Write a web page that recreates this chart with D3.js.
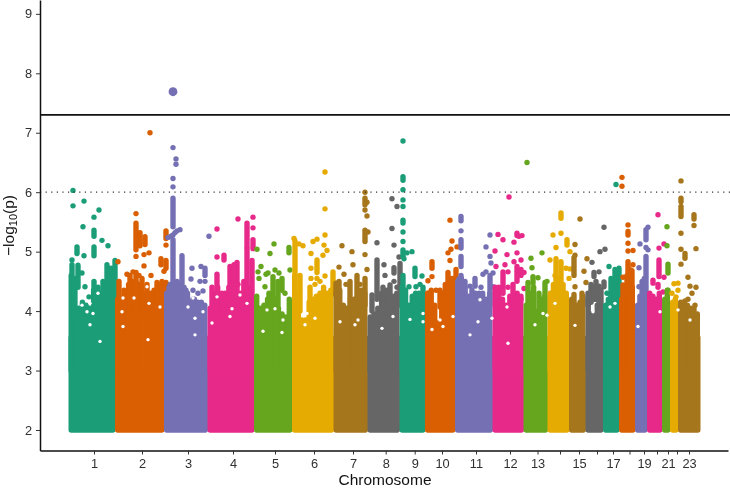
<!DOCTYPE html>
<html>
<head>
<meta charset="utf-8">
<script src="https://cdn.jsdelivr.net/npm/d3@7"></script>
<style>
    html, body { margin: 0; padding: 0; background: #fff; }
    svg { display: block; filter: blur(0.35px); }
    text { font-family: "Liberation Sans", Arial, sans-serif; }
    .tick text { font-size: 12.8px; fill: #303030; }
</style>
</head>
<body>
<div id="chart"></div>
<script>
//---------------------------DATA---------------------------------
const chromosomes = d3.range(1, 24);
const chromColors = ["#1B9E77", "#D95F02", "#7570B3", "#E7298A", "#66A61E", "#E6AB02", "#A6761D", "#666666"];

// genome position of the chromosome borders, in plot units
const chromBorders = [28.5, 75, 124, 167.5, 214, 252, 293.5, 327.5, 359.5, 385, 415, 452.5, 483.5, 507.5, 529, 545.5, 563, 579, 595, 607, 622, 630, 638, 660];

const tickPositions = [54, 102, 148, 193, 235, 274, 313, 345.7, 374.7, 402, 436, 470, 497.5, 520, 539, 557, 573, 589.5, 604, 617, 628, 637, 649];
const tickLabels = ["1", "2", "3", "4", "5", "6", "7", "8", "9", "10", "11", "12", "13", "", "15", "", "17", "", "19", "", "21", "", "23"];
const yTicks = [2, 3, 4, 5, 6, 7, 8, 9];

const genomeWideLine = 7.3;
const suggestiveLine = 6;
const leadSnp = [133, 7.69];

// top of the solid mass of SNPs, read left to right inside each chromosome
const bodyTops = [
    [4.6, 4.55, 4.05, 4.15, 4.1, 4.05, 4.35, 4.15, 4.3, 4.35, 4.45, 4.5],
    [4.2, 4.15, 4.3, 4.45, 4.5, 4.5, 4.45, 4.3, 4.25, 4.3, 4.35, 4.4, 4.45],
    [4.3, 4.45, 4.45, 4.5, 4.45, 4.4, 4.3, 4.15, 4.2, 4.15, 4.15, 4.1],
    [4.05, 4.3, 4.4, 4.1, 4.3, 4.4, 4.35, 4.4, 4.3, 4.5, 4.35, 4.4],
    [4.25, 4.05, 4.1, 4.2, 4.25, 4.2, 4.05, 3.95, 3.9, 4.2],
    [4.6, 4.3, 3.85, 3.85, 4.15, 4.2, 4.25, 4.3, 4.4, 4.3, 4.35],
    [4.3, 4.35, 4.1, 4.05, 4.2, 4.2, 4.3, 4.35, 4.3],
    [3.9, 3.95, 4.05, 4.3, 4.3, 4.25, 4.25, 4.3],
    [4.4, 4.35, 4.1, 4.25, 4.3, 4.3, 3.9],
    [4.3, 4.35, 4.1, 3.8, 4.3, 4.45, 4.5, 4.4],
    [4.5, 4.55, 4.4, 4.25, 4.35, 4.3, 4.3, 4.3, 4.2, 4.3],
    [4.4, 4.4, 4.2, 4.1, 4.25, 4.25, 4.3, 4.2],
    [4.1, 4.3, 4.4, 4.0, 4.2, 4.25],
    [4.3, 4.45, 4.55, 4.5, 4.45, 4.3],
    [4.2, 4.0, 4.1, 4.15, 4.25],
    [4.2, 3.95, 3.95, 4.1, 4.25],
    [4.1, 4.2, 4.3, 4.5, 4.6],
    [4.2, 4.3, 4.6, 4.7, 4.4],
    [4.1, 4.25, 4.5, 4.55],
    [4.3, 4.25, 4.2, 4.3],
    [4.2, 4.35],
    [4.15, 4.2],
    [4.15, 4.15, 4.1, 4.05, 4.05, 3.95]
];

// stacks of neighbouring SNPs: [position, lowest, highest]
const stacks = [
    [[54, 4.93, 5.08], [54, 5.26, 5.36], [37, 4.97, 5.08], [32, 3.9, 4.78], [38, 4.4, 4.77], [54, 4.1, 4.5], [63, 4.1, 4.5], [67, 4.2, 4.78], [71, 4.2, 4.72], [75, 4.1, 4.85], [58, 4.0, 4.4]],
    [[96, 5.03, 5.48], [100, 5.1, 5.32], [105, 5.12, 5.25], [126, 5.22, 5.35], [121, 4.78, 4.88], [126, 4.72, 4.85], [79, 4.05, 4.5], [84, 4.0, 4.35], [90, 4.0, 4.6], [96, 4.0, 4.65], [102, 4.0, 4.55], [107, 4.0, 4.45], [112, 4.1, 4.25], [117, 4.0, 4.48], [122, 4.0, 4.5], [126, 4.0, 4.48]],
    [[133, 5.42, 5.9], [133, 4.5, 5.2], [142, 4.47, 4.93], [165, 4.6, 4.72], [129, 4.0, 4.4], [137, 4.0, 4.45], [146, 4.0, 4.35], [153, 4.05, 4.2]],
    [[207, 5.08, 5.48], [213, 5.05, 5.2], [184, 4.86, 4.94], [207, 4.3, 5.05], [197, 4.1, 4.82], [190, 4.1, 4.75], [194, 4.1, 4.78], [177, 4.2, 4.62], [172, 3.9, 4.4], [182, 4.0, 4.3], [212, 4.2, 4.85]],
    [[249, 4.98, 5.07], [242, 4.35, 4.55], [233, 4.0, 4.58], [229, 4.0, 4.3], [238, 4.1, 4.5]],
    [[255, 4.0, 5.18], [260, 4.0, 4.6], [277, 4.65, 4.86], [293, 4.3, 4.66], [270, 4.0, 4.4], [282, 4.0, 4.25], [290, 4.0, 4.25]],
    [[325, 5.79, 5.9], [325, 5.17, 5.36], [296, 4.27, 4.47], [299, 4.3, 4.5], [310, 4.1, 4.5], [317, 4.1, 4.6], [325, 4.1, 4.55]],
    [[337, 4.2, 4.86], [354, 4.64, 4.73], [343, 4.1, 4.4], [347, 4.1, 4.35], [332, 4.0, 4.27], [360, 4.1, 4.8], [350, 4.1, 4.4]],
    [[363, 6.2, 6.26], [363, 5.48, 5.53], [363, 4.92, 5.03], [375, 4.58, 4.72], [363, 4.3, 4.6], [383, 3.9, 4.4]],
    [[392, 4.72, 4.83], [400, 4.07, 4.35], [408, 4.1, 4.65], [412, 4.1, 4.55], [416, 4.1, 4.7], [388, 3.9, 4.3]],
    [[421, 5.52, 5.59], [421, 5.06, 5.2], [421, 4.75, 4.92], [421, 4.2, 4.6], [435, 4.44, 4.55], [425, 4.2, 4.5], [450, 4.1, 4.6]],
    [[477, 5.27, 5.31], [477, 4.5, 4.75], [481, 4.6, 4.7], [463, 4.3, 4.66], [456, 4.0, 4.38], [473, 4.1, 4.45], [481, 4.2, 4.25]],
    [[493, 4.47, 4.58], [488, 4.1, 4.48], [499, 4.0, 4.3], [505, 4.0, 4.48]],
    [[521, 5.56, 5.65], [527, 5.11, 5.2], [516, 4.4, 4.88], [521, 4.4, 4.83]],
    [[534, 4.6, 4.9], [534, 4.0, 4.28], [542, 4.05, 4.3]],
    [[554, 4.58, 4.65], [564, 4.41, 4.49], [551, 4.15, 4.45], [556, 4.2, 4.5], [561, 4.1, 4.35], [548, 4.1, 4.3], [554, 4.2, 4.4], [559, 4.15, 4.42]],
    [[575, 4.2, 4.7], [579, 4.2, 4.72], [571, 4.2, 4.55]],
    [[588, 5.28, 5.34], [588, 4.4, 4.83], [583, 4.25, 4.44], [592, 4.3, 4.68]],
    [[606, 5.2, 5.37], [606, 4.58, 4.92], [606, 4.2, 4.55]],
    [[619, 4.58, 4.86], [613, 4.47, 4.52], [618, 4.4, 4.45]],
    [[628, 4.64, 4.79]],
    [],
    [[641, 5.84, 5.9], [641, 5.59, 5.76], [654, 5.55, 5.62], [645, 4.89, 4.97]]
];

// single SNPs standing clear of the mass: [position, -log10(p)]
const hits = [
    [[33, 6.03], [33, 5.77], [44, 5.85], [59, 5.7], [54, 5.58], [43, 5.42], [62, 5.19], [68, 5.1], [44, 4.93], [32, 4.86], [42, 4.64], [45, 4.41], [49, 4.24]],
    [[110, 7.0], [96, 5.64], [96, 4.92], [104, 4.95], [109, 4.98], [104, 4.76], [78, 4.83], [126, 5.11], [124, 4.67], [111, 4.6], [87, 4.62], [93, 4.66], [99, 4.6]],
    [[133, 6.75], [136, 6.56], [136, 6.47], [133, 6.23], [133, 6.09], [128, 5.24], [131, 5.26], [133, 5.28], [135, 5.32], [137, 5.35], [140, 5.37], [152, 4.72], [161, 4.75], [169, 5.26], [151, 4.54], [160, 4.5], [165, 4.5], [163, 4.34], [158, 4.3], [153, 4.35]],
    [[177, 5.38], [198, 5.55], [213, 5.58], [213, 5.4], [177, 4.91], [198, 4.45]],
    [[217, 5.04], [234, 5.13], [230, 4.97], [221, 4.75], [218, 4.66], [226, 4.62], [228, 4.64], [235, 4.69], [239, 4.64], [250, 4.69], [219, 4.55], [225, 4.41], [245, 4.3]],
    [[285, 6.34], [285, 5.72], [285, 5.28], [254, 5.22], [259, 5.13], [263, 5.1], [273, 5.17], [277, 5.21], [284, 5.11], [287, 5.02], [283, 4.94], [271, 4.97], [271, 4.72], [271, 4.55], [277, 4.55], [285, 4.59], [280, 4.5], [275, 4.45]],
    [[325, 6.0], [327, 5.83], [325, 5.7], [327, 5.6], [328, 5.33], [325, 4.95], [302, 5.1], [312, 5.0], [299, 4.74], [313, 4.78], [327, 4.7], [304, 4.62], [306, 4.45], [320, 4.45]],
    [[352, 5.89], [357, 5.76], [352, 5.39], [337, 5.15], [354, 5.11], [359, 4.91], [344, 4.78], [345, 4.6], [350, 4.44], [357, 4.4], [354, 4.5]],
    [[363, 6.86], [363, 6.04], [363, 5.87], [363, 5.76], [363, 5.33], [363, 5.17], [367, 4.98], [372, 5.0], [364, 4.88], [382, 4.59], [369, 4.41], [376, 4.41], [380, 4.45]],
    [[410, 5.53], [412, 5.18], [408, 4.98], [411, 5.04], [417, 5.08], [410, 4.85], [392, 4.58], [388, 4.51], [396, 4.35]],
    [[421, 5.35], [419, 4.54], [446, 5.08], [450, 5.28], [450, 4.92], [446, 4.66], [443, 4.62], [435, 4.42], [441, 4.4], [451, 4.81], [453, 4.64], [453, 4.41], [430, 4.42]],
    [[469, 5.92], [458, 5.29], [463, 5.2], [474, 5.16], [482, 5.27], [479, 5.26], [455, 5.01], [467, 4.95], [477, 4.98], [474, 4.83], [481, 4.86], [456, 4.75], [465, 4.78], [468, 4.66], [484, 4.65], [468, 4.4], [484, 4.38]],
    [[487, 6.5], [491, 4.89], [492, 4.73], [502, 4.98], [498, 4.56], [507, 4.5]],
    [[513, 5.28], [521, 5.31], [516, 5.07], [530, 5.0], [510, 4.86], [526, 4.72], [530, 4.71], [529, 4.55], [515, 4.6]],
    [[540, 5.55], [535, 5.12], [535, 4.94], [547, 4.88], [544, 4.67], [535, 4.41], [546, 4.48]],
    [[564, 5.41], [565, 5.04], [560, 5.0], [552, 4.82], [559, 4.66]],
    [[576, 6.13], [569, 4.75], [567, 4.3]],
    [[582, 6.25], [582, 6.1], [588, 5.45], [588, 5.14], [588, 5.01], [593, 5.02], [593, 4.78], [583, 4.57]],
    [[608, 5.41], [600, 5.13], [606, 5.07], [608, 5.03], [599, 4.73], [599, 4.41]],
    [[618, 5.62], [624, 5.13], [619, 5.06], [624, 4.57], [623, 4.32]],
    [[627, 5.42], [627, 5.1], [628, 4.35], [627, 4.15]],
    [[638, 4.47], [634, 4.46], [638, 4.35], [632, 4.3], [636, 4.24]],
    [[641, 6.19], [641, 5.31], [641, 5.04], [654, 5.44], [656, 5.05], [641, 4.79], [648, 4.57], [650, 4.42], [656, 4.4], [648, 4.2], [652, 4.3], [645, 4.17], [655, 4.1]]
];

// empty spots inside the mass where no SNP falls: [position, -log10(p)]
const emptySpots = [
    [42, 4.1], [50, 3.77], [47, 3.99], [53, 3.96], [60, 3.49], [40, 4.24], [50, 4.13], [58, 4.3],
    [83, 4.22], [94, 4.22], [107, 4.41], [82, 3.99], [83, 3.74], [109, 4.13], [120, 4.07], [108, 3.52],
    [153, 4.22], [148, 4.07], [163, 3.99], [155, 3.88], [155, 3.6], [177, 4.24], [172, 3.8],
    [200, 4.27], [192, 4.04], [207, 4.13], [190, 3.91], [227, 4.02], [243, 3.85], [235, 4.04], [223, 3.66], [242, 3.64],
    [267, 3.96], [265, 3.77], [275, 3.88], [300, 3.82], [315, 3.77], [318, 3.85], [305, 4.19], [342, 3.71],
    [353, 3.91], [370, 3.86], [383, 3.82], [383, 3.96], [400, 3.85], [392, 3.69], [403, 3.74], [413, 3.91],
    [438, 3.82], [440, 4.19], [430, 3.6], [452, 3.88], [467, 4.07], [468, 3.46], [503, 3.96], [495, 3.77], [507, 3.93],
    [553, 3.99], [535, 3.76], [515, 4.13], [575, 4.13], [598, 3.74], [650, 3.85], [638, 4.02], [620, 3.99], [570, 4.07]
];

//---------------------------SPACE SETUP---------------------------------
const width = 730;
const height = 488;
const axisLeft = 40;
const axisBottom = 450.5;
const dotRadius = 2.7;

const x = d3.scaleLinear().domain([0, 688]).range([axisLeft, 728]);
const y = d3.scaleLinear().domain([1.655, 9.233]).range([axisBottom, 0]);

const svg = d3.select("#chart").append("svg")
    .attr("width", width)
    .attr("height", height);

//---------------------------USE DATA---------------------------------
chromosomes.forEach((chrom, i) => {
    const color = chromColors[i % chromColors.length];
    const g = svg.append("g")
        .attr("class", `chrom chrom-${chrom}`)
        .attr("stroke", color)
        .attr("fill", color)
        .attr("stroke-linecap", "round")
        .attr("stroke-width", dotRadius * 2);

    // flat foot of the mass, every SNP here is above p = 0.01
    g.append("rect")
        .attr("stroke", "none")
        .attr("x", x(chromBorders[i]))
        .attr("width", x(chromBorders[i + 1]) - x(chromBorders[i]) + 0.5)
        .attr("y", y(3.6))
        .attr("height", y(2) + dotRadius - y(3.6))
        .attr("rx", dotRadius);

    // bins across the chromosome
    const bin = d3.scalePoint()
        .domain(d3.range(bodyTops[i].length))
        .range([x(chromBorders[i]) + dotRadius, x(chromBorders[i + 1]) - dotRadius]);

    g.selectAll("line.body")
        .data(bodyTops[i])
        .enter().append("line")
        .attr("class", "body")
        .attr("x1", (d, k) => bin(k))
        .attr("x2", (d, k) => bin(k))
        .attr("y1", y(3))
        .attr("y2", d => y(d));

    g.selectAll("line.stack")
        .data(stacks[i])
        .enter().append("line")
        .attr("class", "stack")
        .attr("x1", d => x(d[0]))
        .attr("x2", d => x(d[0]))
        .attr("y1", d => y(d[1]))
        .attr("y2", d => y(d[2]));

    g.selectAll("circle")
        .data(hits[i])
        .enter().append("circle")
        .attr("stroke", "none")
        .attr("cx", d => x(d[0]))
        .attr("cy", d => y(d[1]))
        .attr("r", dotRadius);
});

svg.append("g")
    .attr("class", "empty-spots")
    .selectAll("circle")
    .data(emptySpots)
    .enter().append("circle")
    .attr("cx", d => x(d[0]))
    .attr("cy", d => y(d[1]))
    .attr("r", 1.7)
    .attr("fill", "#fff");

svg.append("circle")
    .attr("cx", x(leadSnp[0]))
    .attr("cy", y(leadSnp[1]))
    .attr("r", 4.4)
    .attr("fill", chromColors[2]);

//---------------------------REFERENCE LINES---------------------------------
svg.append("line")
    .attr("x1", axisLeft).attr("x2", width)
    .attr("y1", y(genomeWideLine)).attr("y2", y(genomeWideLine))
    .attr("stroke", "#111")
    .attr("stroke-width", 1.8);

svg.append("line")
    .attr("x1", axisLeft).attr("x2", width)
    .attr("y1", y(suggestiveLine)).attr("y2", y(suggestiveLine))
    .attr("stroke", "#333")
    .attr("stroke-width", 1.2)
    .attr("stroke-dasharray", "1.2 4.4");

//---------------------------BUILD AXIS---------------------------------
const xAxis = d3.axisBottom(x)
    .tickValues(tickPositions)
    .tickFormat((d, i) => tickLabels[i])
    .tickSize(4)
    .tickPadding(4)
    .tickSizeOuter(0);

const yAxis = d3.axisLeft(y)
    .tickValues(yTicks)
    .tickSize(4)
    .tickPadding(4)
    .tickSizeOuter(0);

const xG = svg.append("g")
    .attr("class", "x axis")
    .attr("transform", `translate(0, ${axisBottom})`)
    .call(xAxis);

const yG = svg.append("g")
    .attr("class", "y axis")
    .attr("transform", `translate(${axisLeft}, 0)`)
    .call(yAxis);

xG.select(".domain").attr("stroke", "#111").attr("stroke-width", 1.5);
yG.select(".domain").attr("stroke", "#111").attr("stroke-width", 1.5);
svg.selectAll(".tick line").attr("stroke", "#333").attr("stroke-width", 1);

svg.append("text")
    .attr("x", 385)
    .attr("y", 484.5)
    .attr("text-anchor", "middle")
    .attr("font-size", 15.5)
    .attr("fill", "#111")
    .text("Chromosome");

const yLabel = svg.append("text")
    .attr("transform", "translate(14, 225.5) rotate(-90)")
    .attr("text-anchor", "middle")
    .attr("font-size", 15.5)
    .attr("fill", "#111");
yLabel.append("tspan").text("\u2212log");
yLabel.append("tspan").attr("font-size", 11).attr("dy", 3).text("10");
yLabel.append("tspan").attr("dy", -3).text("(p)");
</script>
</body>
</html>
